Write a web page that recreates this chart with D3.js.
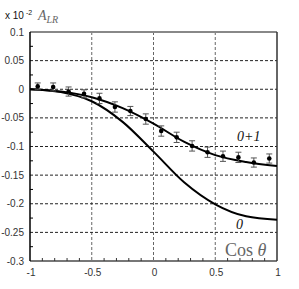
<!DOCTYPE html>
<html><head><meta charset="utf-8">
<script src="https://cdn.jsdelivr.net/npm/d3@7"></script>
<style>body{margin:0;background:#fff}</style>
</head><body>
<script>
const xTicks = [-1, -0.5, 0, 0.5, 1];
const xTickLabels = ["-1", "-0.5", "0", "0.5", "1"];
const yTicks = [0.1, 0.05, 0, -0.05, -0.1, -0.15, -0.2, -0.25, -0.3];
const yTickLabels = ["0.1", "0.05", "0", "-0.05", "-0.1", "-0.15", "-0.2", "-0.25", "-0.3"];
const pointX = [-0.9375, -0.8125, -0.6875, -0.5625, -0.4375, -0.3125, -0.1875, -0.0625, 0.0625, 0.1875, 0.3125, 0.4375, 0.5625, 0.6875, 0.8125, 0.9375];
const pointY = [0.005, 0.004, -0.004, -0.008, -0.016, -0.031, -0.038, -0.052, -0.073, -0.084, -0.099, -0.110, -0.117, -0.119, -0.128, -0.121];
const pointErr = [0.006, 0.007, 0.008, 0.007, 0.009, 0.009, 0.008, 0.009, 0.009, 0.009, 0.009, 0.009, 0.009, 0.009, 0.008, 0.008];
const curveX = [-1, -0.75, -0.5, -0.25, 0, 0.25, 0.5, 0.75, 1];
const curve01 = [0, -0.004, -0.014, -0.033, -0.060, -0.092, -0.115, -0.127, -0.134];
const curve0 = [0, -0.005, -0.021, -0.057, -0.109, -0.163, -0.201, -0.222, -0.228];

const W = 299, H = 289;
const svg = d3.select("body").append("svg").attr("width", W).attr("height", H);
const x = d3.scaleLinear().domain([-1, 1]).range([30, 277]);
const y = d3.scaleLinear().domain([0.1, -0.3]).range([32, 261]);

const sans = "Liberation Sans, Arial, sans-serif";
const serif = "Liberation Serif, Times New Roman, serif";

// grid
svg.append("g").selectAll("line").data(xTicks.slice(1, -1)).join("line")
  .attr("x1", d => x(d)).attr("x2", d => x(d)).attr("y1", y(0.1)).attr("y2", y(-0.3))
  .attr("stroke", "#666").attr("stroke-width", 1).attr("stroke-dasharray", "3,2");
svg.append("g").selectAll("line").data(yTicks.slice(1, -1)).join("line")
  .attr("x1", x(-1)).attr("x2", x(1)).attr("y1", d => y(d)).attr("y2", d => y(d))
  .attr("stroke", "#222").attr("stroke-width", 1).attr("stroke-dasharray", "3,2");

// frame
svg.append("line").attr("x1", x(-1)).attr("x2", x(1)).attr("y1", y(0.1)).attr("y2", y(0.1))
  .attr("stroke", "#888").attr("stroke-width", 2);
svg.append("line").attr("x1", x(-1)).attr("x2", x(1)).attr("y1", y(-0.3)).attr("y2", y(-0.3))
  .attr("stroke", "#777").attr("stroke-width", 2);
svg.append("line").attr("x1", x(1)).attr("x2", x(1)).attr("y1", y(0.1)).attr("y2", y(-0.3))
  .attr("stroke", "#333").attr("stroke-width", 1.5);
svg.append("line").attr("x1", x(-1)).attr("x2", x(-1)).attr("y1", y(0.1)).attr("y2", y(-0.3))
  .attr("stroke", "#000").attr("stroke-width", 1.5);

// minor ticks
const yMinor = d3.range(-0.275, 0.1, 0.05);
svg.append("g").selectAll("line").data(yMinor).join("line")
  .attr("x1", x(-1)).attr("x2", x(-1) + 3).attr("y1", d => y(d)).attr("y2", d => y(d))
  .attr("stroke", "#000").attr("stroke-width", 1);
const xMinor = d3.range(-0.9, 1, 0.1).filter(d => Math.abs(Math.round(d * 2) - d * 2) > 0.01);
svg.append("g").selectAll("line").data(xMinor).join("line")
  .attr("x1", d => x(d)).attr("x2", d => x(d)).attr("y1", y(-0.3)).attr("y2", y(-0.3) - 3)
  .attr("stroke", "#333").attr("stroke-width", 1);

// tick labels
svg.append("g").selectAll("text").data(yTicks).join("text")
  .attr("x", 24).attr("y", d => y(d) + 3.5).attr("text-anchor", "end")
  .attr("font-family", sans).attr("font-size", 10).attr("fill", "#333")
  .text((d, i) => yTickLabels[i]);
svg.append("g").selectAll("text").data(xTicks).join("text")
  .attr("x", d => x(d) + 1).attr("y", 276).attr("text-anchor", "middle")
  .attr("font-family", sans).attr("font-size", 10).attr("fill", "#333")
  .text((d, i) => xTickLabels[i]);

// curves
const line = d3.line().x(d => x(d[0])).y(d => y(d[1])).curve(d3.curveMonotoneX);
svg.append("path").datum(curveX.map((c, i) => [c, curve01[i]])).attr("d", line)
  .attr("fill", "none").attr("stroke", "#000").attr("stroke-width", 2);
svg.append("path").datum(curveX.map((c, i) => [c, curve0[i]])).attr("d", line)
  .attr("fill", "none").attr("stroke", "#000").attr("stroke-width", 2);

// error bars
const eb = svg.append("g").attr("stroke", "#555").attr("stroke-width", 1);
pointX.forEach((px, i) => {
  const cx = x(px), y1 = y(pointY[i] + pointErr[i]), y2 = y(pointY[i] - pointErr[i]);
  eb.append("line").attr("x1", cx).attr("x2", cx).attr("y1", y1).attr("y2", y2);
  eb.append("line").attr("x1", cx - 3).attr("x2", cx + 3).attr("y1", y1).attr("y2", y1);
  eb.append("line").attr("x1", cx - 3).attr("x2", cx + 3).attr("y1", y2).attr("y2", y2);
});
svg.append("g").selectAll("circle").data(pointX).join("circle")
  .attr("cx", d => x(d)).attr("cy", (d, i) => y(pointY[i])).attr("r", 2.3).attr("fill", "#000");

// labels
svg.append("text").attr("x", 237).attr("y", 141).attr("font-family", serif).attr("font-style", "italic")
  .attr("font-size", 14).attr("fill", "#111").text("0+1");
svg.append("text").attr("x", 236).attr("y", 229).attr("font-family", serif).attr("font-style", "italic")
  .attr("font-size", 14).attr("fill", "#111").text("0");
const cos = svg.append("text").attr("x", 225).attr("y", 256).attr("font-family", serif)
  .attr("font-size", 18).attr("fill", "#666");
cos.append("tspan").text("Cos ");
cos.append("tspan").attr("font-style", "italic").text("θ");

const t = svg.append("text").attr("x", 5).attr("y", 19).attr("font-family", sans).attr("font-size", 10).attr("fill", "#111");
t.append("tspan").text("x 10");
t.append("tspan").attr("dx", 2).attr("dy", -4).attr("font-size", 7).text("-2");
const a = svg.append("text").attr("x", 38).attr("y", 20).attr("font-family", serif).attr("font-style", "italic").attr("fill", "#666");
a.append("tspan").attr("font-size", 14).text("A");
a.append("tspan").attr("dy", 3).attr("font-size", 10).text("LR");
</script>
</body></html>
